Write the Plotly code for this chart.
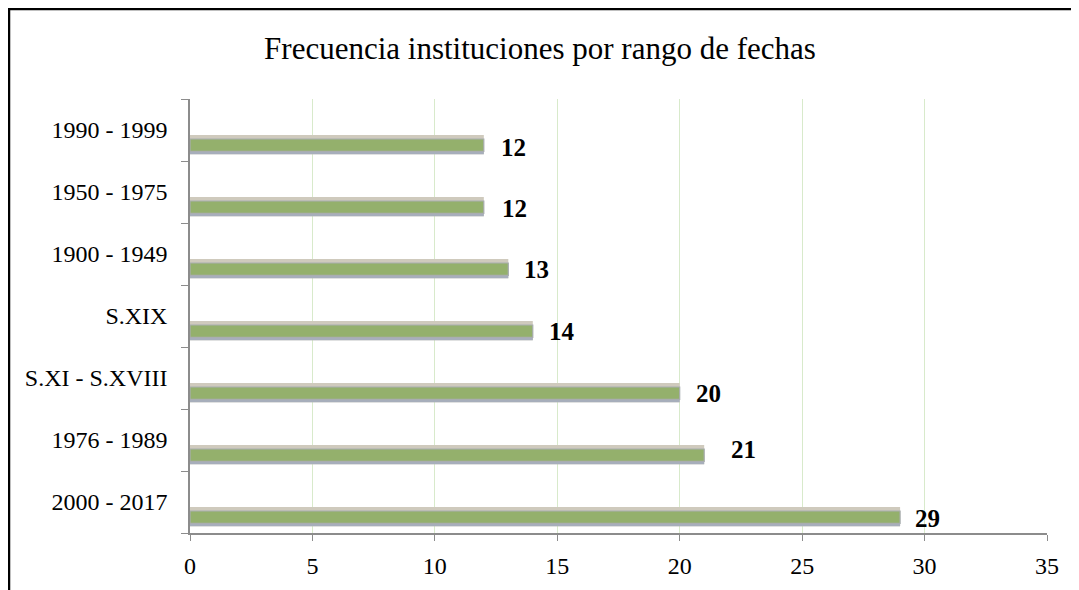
import plotly.graph_objects as go

# categories listed bottom -> top, as plotted
periodos = ["2000 - 2017", "1976 - 1989", "S.XI - S.XVIII", "S.XIX",
            "1900 - 1949", "1950 - 1975", "1990 - 1999"]
frecuencia = [29, 21, 20, 14, 13, 12, 12]
x_ticks = [0, 5, 10, 15, 20, 25, 30, 35]

# little nudges for the value labels (px), Excel put them a bit irregularly
label_dx = [13, 25, 14, 14, 14, 16, 15]
label_dy = [-16, -9, -15, -15, -15, -16, -17]

W, H = 1079, 590
# page body adds 8px, so everything is pulled up/left by that much
L, R, T, B = 182, 40, 91, 65
pw, ph = W - L - R, H - T - B

fig = go.Figure()

# fake 3D look: tan top, blue-grey bottom, green face
fig.add_trace(go.Bar(y=periodos, x=frecuencia, orientation="h",
                     offset=-0.39, width=0.31,
                     marker=dict(color="#cfcabd", line=dict(width=0)),
                     hoverinfo="skip", showlegend=False))
fig.add_trace(go.Bar(y=periodos, x=frecuencia, orientation="h",
                     offset=-0.39, width=0.14,
                     marker=dict(color="#a7aebb", line=dict(width=0)),
                     hoverinfo="skip", showlegend=False))
fig.add_trace(go.Bar(y=periodos, x=frecuencia, orientation="h",
                     offset=-0.345, width=0.2,
                     marker=dict(color="#94b06c", line=dict(width=1.2, color="#a9adb0")),
                     showlegend=False))

for p, v, dx, dy in zip(periodos, frecuencia, label_dx, label_dy):
    fig.add_annotation(x=v, y=p, text="<b>%d</b>" % v, showarrow=False,
                       xanchor="left", yanchor="middle", xshift=dx, yshift=dy,
                       font=dict(family="Liberation Serif", size=25, color="black"))

# outer frame of the exported chart (right/bottom edges are cut off)
fig.add_shape(type="rect", xref="paper", yref="paper",
              x0=(1 - L) / pw, x1=(W + 20 - L) / pw,
              y0=-(B + 20) / ph, y1=(H - B - 1) / ph,
              line=dict(color="black", width=2.5), fillcolor="rgba(0,0,0,0)")

fig.update_layout(
    barmode="overlay",
    width=W, height=H,
    margin=dict(l=L, r=R, t=T, b=B),
    paper_bgcolor="white", plot_bgcolor="white",
    font=dict(family="Liberation Serif", size=24, color="black"),
    title=dict(text="Frecuencia instituciones por rango de fechas",
               x=(540 - 8) / W, xanchor="center", y=1 - 40 / H, yanchor="middle",
               font=dict(size=31)),
    xaxis=dict(range=[0, 35], tickvals=x_ticks, showgrid=True,
               gridcolor="#d8eacb", gridwidth=1, zeroline=False,
               showline=True, linecolor="#8c8c8c", linewidth=1.5,
               ticks="outside", ticklen=6, tickcolor="#8c8c8c",
               ticklabelstandoff=4),
    yaxis=dict(type="category", categoryorder="array", categoryarray=periodos,
               showgrid=False, showline=True, linecolor="#8c8c8c", linewidth=1.5,
               ticks="outside", ticklen=7, tickcolor="#8c8c8c",
               tickson="boundaries", ticklabelstandoff=16,
               range=[-0.5, len(periodos) - 0.5]),
)

fig.write_html("out.html")
